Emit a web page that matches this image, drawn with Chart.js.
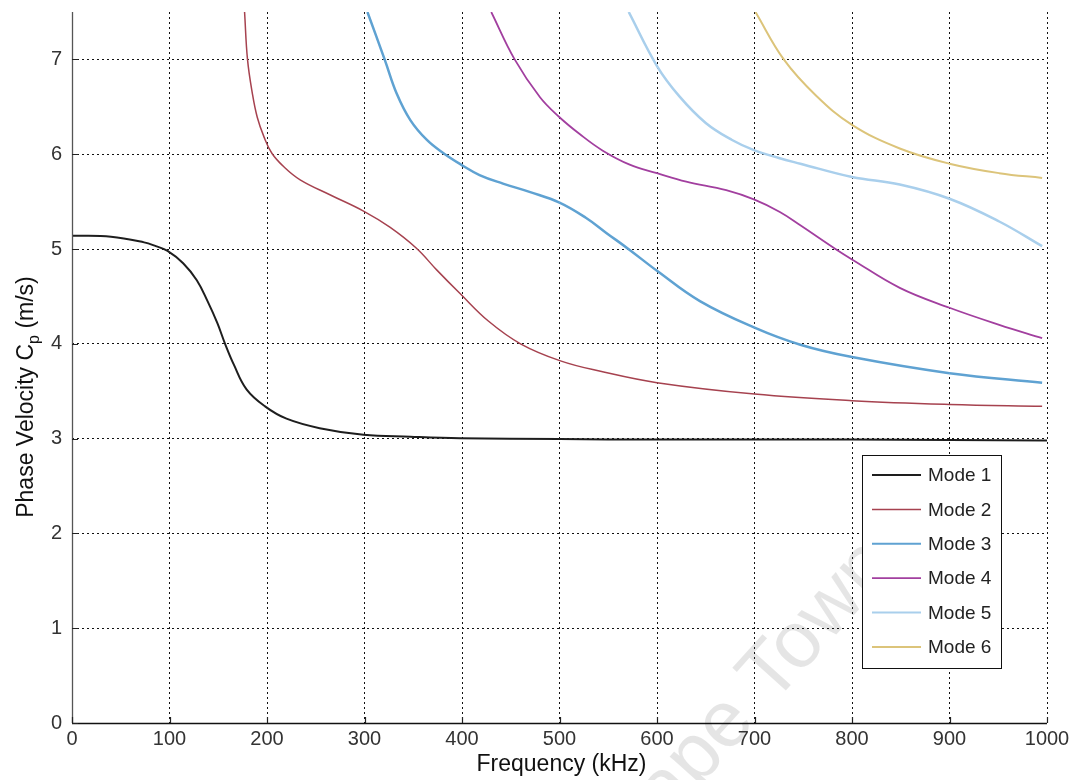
<!DOCTYPE html>
<html>
<head>
<meta charset="utf-8">
<script src="https://cdn.jsdelivr.net/npm/chart.js@4.4.1/dist/chart.umd.min.js"></script>
<style>
  html, body { margin: 0; padding: 0; background: #fff; }
  .wrap { width: 1079px; height: 780px; position: relative; }
</style>
</head>
<body>
<div class="wrap"><canvas class="chart"></canvas></div>
<script>
// dispersion curves, frequency in kHz, phase velocity in m/s
const modeLabels = ['Mode 1', 'Mode 2', 'Mode 3', 'Mode 4', 'Mode 5', 'Mode 6'];
const modeColors = ['#1e1e1e', '#a6424f', '#5fa2d2', '#a23f9f', '#a9cfec', '#dcc47a'];
const modeWidths = [2, 1.5, 2.5, 1.8, 2.5, 2];

const mode1Freq = [0, 40, 74, 86, 98, 114, 128, 139, 149, 157, 166, 179, 198, 220, 254, 299, 347, 398, 500, 600, 700, 800, 900, 1000];
const mode1Vel  = [5.14, 5.13, 5.07, 5.03, 4.98, 4.85, 4.67, 4.45, 4.22, 4.0, 3.78, 3.52, 3.34, 3.21, 3.11, 3.04, 3.02, 3.005, 2.995, 2.99, 2.99, 2.99, 2.985, 2.98];

const mode2Freq = [177, 180, 185, 190, 197, 205, 217, 234, 265, 299, 326, 353, 374, 398, 427, 460, 501, 542, 600, 700, 800, 900, 995];
const mode2Vel  = [7.5, 7.0, 6.64, 6.39, 6.18, 6.01, 5.87, 5.73, 5.57, 5.40, 5.23, 5.01, 4.78, 4.53, 4.24, 4.0, 3.82, 3.71, 3.59, 3.47, 3.40, 3.36, 3.34];

const mode3Freq = [303, 321, 333, 347, 364, 381, 399, 418, 442, 470, 500, 527, 548, 572, 600, 644, 700, 747, 800, 900, 995];
const mode3Vel  = [7.5, 6.99, 6.64, 6.36, 6.15, 6.01, 5.89, 5.78, 5.69, 5.60, 5.49, 5.33, 5.17, 4.99, 4.77, 4.45, 4.17, 3.99, 3.86, 3.69, 3.59];

const mode4Freq = [430, 454, 480, 500, 521, 544, 572, 600, 630, 671, 700, 726, 747, 783, 800, 849, 900, 951, 995];
const mode4Vel  = [7.5, 7.0, 6.60, 6.39, 6.21, 6.04, 5.89, 5.80, 5.71, 5.62, 5.52, 5.39, 5.25, 5.0, 4.89, 4.59, 4.38, 4.20, 4.06];

const mode5Freq = [571, 600, 623, 650, 677, 700, 725, 747, 800, 849, 900, 951, 995];
const mode5Vel  = [7.5, 6.93, 6.61, 6.33, 6.15, 6.04, 5.96, 5.90, 5.76, 5.68, 5.53, 5.29, 5.03];

const mode6Freq = [701, 730, 763, 800, 849, 900, 951, 995];
const mode6Vel  = [7.5, 7.0, 6.62, 6.31, 6.06, 5.90, 5.80, 5.75];

const freqTicks = [0, 100, 200, 300, 400, 500, 600, 700, 800, 900, 1000];
const velTicks = [0, 1, 2, 3, 4, 5, 6, 7];

const modeFreqs = [mode1Freq, mode2Freq, mode3Freq, mode4Freq, mode5Freq, mode6Freq];
const modeVels = [mode1Vel, mode2Vel, mode3Vel, mode4Vel, mode5Vel, mode6Vel];

const FONT = '"Liberation Sans", Arial, Helvetica, sans-serif';

const data = {
  datasets: modeLabels.map((label, i) => ({
    label: label,
    data: modeFreqs[i].map((f, j) => ({x: f, y: modeVels[i][j]})),
    borderColor: modeColors[i],
    backgroundColor: modeColors[i],
    borderWidth: modeWidths[i],
    pointRadius: 0,
    fill: false,
    tension: 0.4,
  }))
};

// faint stamp behind the plot
const watermark = {
  id: 'watermark',
  beforeDraw(chart) {
    const {ctx} = chart;
    ctx.save();
    ctx.translate(772, 706);
    ctx.rotate(-48 * Math.PI / 180);
    ctx.font = '80px ' + FONT;
    ctx.fillStyle = 'rgba(0, 0, 0, 0.1)';
    ctx.textBaseline = 'alphabetic';
    ctx.textAlign = 'left';
    ctx.fillText('Town', 0, 0);
    ctx.textAlign = 'right';
    ctx.fillText('Cape ', 0, 0);
    ctx.restore();
  }
};

// solid axis lines, inward tick marks, axis titles and the boxed legend
const axisDecor = {
  id: 'axisDecor',
  afterDraw(chart) {
    const {ctx, chartArea: {top, bottom, left, right}, scales: {x, y}} = chart;
    ctx.save();

    ctx.lineWidth = 1.3;
    ctx.strokeStyle = '#555';
    ctx.beginPath();
    ctx.moveTo(left + 0.5, top);
    ctx.lineTo(left + 0.5, bottom);
    ctx.stroke();
    ctx.strokeStyle = '#111';
    ctx.beginPath();
    ctx.moveTo(left, bottom + 0.5);
    ctx.lineTo(right, bottom + 0.5);
    ctx.stroke();

    ctx.strokeStyle = '#222';
    ctx.lineWidth = 1.2;
    ctx.beginPath();
    velTicks.forEach(v => {
      const py = Math.round(y.getPixelForValue(v)) + 0.5;
      ctx.moveTo(left, py);
      ctx.lineTo(left + 6, py);
    });
    freqTicks.forEach(f => {
      const px = Math.round(x.getPixelForValue(f)) + 0.5;
      ctx.moveTo(px, bottom);
      ctx.lineTo(px, bottom - 6);
    });
    ctx.stroke();

    // x title
    ctx.fillStyle = '#111';
    ctx.font = '23px ' + FONT;
    ctx.textAlign = 'center';
    ctx.textBaseline = 'alphabetic';
    ctx.fillText('Frequency (kHz)', (left + right) / 2 + 2, 771);

    // y title with subscript p
    ctx.save();
    ctx.translate(33, 397);
    ctx.rotate(-Math.PI / 2);
    const a = 'Phase Velocity C', b = 'p', c = ' (m/s)';
    ctx.font = '23px ' + FONT;
    const wa = ctx.measureText(a).width, wc = ctx.measureText(c).width;
    ctx.font = '16px ' + FONT;
    const wb = ctx.measureText(b).width;
    let cx = -(wa + wb + wc) / 2;
    ctx.textAlign = 'left';
    ctx.font = '23px ' + FONT;
    ctx.fillText(a, cx, 0);
    cx += wa;
    ctx.font = '16px ' + FONT;
    ctx.fillText(b, cx, 6);
    cx += wb;
    ctx.font = '23px ' + FONT;
    ctx.fillText(c, cx, 0);
    ctx.restore();

    // legend box
    const bx = 862.5, by = 455.5, bw = 139, bh = 213;
    ctx.fillStyle = '#fff';
    ctx.fillRect(bx, by, bw, bh);
    ctx.strokeStyle = '#111';
    ctx.lineWidth = 1;
    ctx.strokeRect(bx, by, bw, bh);
    ctx.font = '19px ' + FONT;
    ctx.textAlign = 'left';
    ctx.textBaseline = 'middle';
    chart.data.datasets.forEach((ds, i) => {
      const ly = 475 + i * 34.4;
      ctx.strokeStyle = ds.borderColor;
      ctx.lineWidth = Math.min(ds.borderWidth, 2);
      ctx.beginPath();
      ctx.moveTo(872, ly);
      ctx.lineTo(921, ly);
      ctx.stroke();
      ctx.fillStyle = '#222';
      ctx.fillText(ds.label, 928, ly + 1);
    });
    ctx.restore();
  }
};

const gridStyle = {
  color: '#111',
  lineWidth: 1,
  drawTicks: false,
};

const config = {
  type: 'line',
  data,
  options: {
    responsive: true,
    maintainAspectRatio: false,
    animation: false,
    layout: {
      padding: {top: 12, right: 32, left: 0, bottom: 0}
    },
    plugins: {
      legend: {display: false},
      tooltip: {enabled: false}
    },
    scales: {
      x: {
        type: 'linear',
        min: 0,
        max: 1000,
        afterFit(scale) { scale.height = 57; scale.paddingLeft = 0; scale.paddingRight = 0; },
        afterBuildTicks(scale) { scale.ticks = freqTicks.map(v => ({value: v})); },
        grid: gridStyle,
        border: {display: false, dash: [2, 3]},
        ticks: {
          color: '#333',
          font: {family: FONT, size: 20},
          padding: 4,
          maxRotation: 0,
          callback: v => String(v)
        }
      },
      y: {
        type: 'linear',
        min: 0,
        max: 7.5,
        afterFit(scale) { scale.width = 72; scale.paddingTop = 0; scale.paddingBottom = 0; },
        afterBuildTicks(scale) { scale.ticks = velTicks.map(v => ({value: v})); },
        grid: gridStyle,
        border: {display: false, dash: [2, 3]},
        ticks: {
          color: '#333',
          font: {family: FONT, size: 20},
          padding: 10,
          callback: v => String(v)
        }
      }
    }
  },
  plugins: [watermark, axisDecor]
};

const myChart = new Chart(
  document.querySelector('.chart'),
  config
);
</script>
</body>
</html>
